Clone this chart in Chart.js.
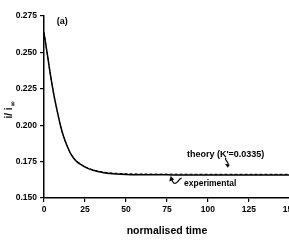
<!DOCTYPE html>
<html>
<head>
<meta charset="utf-8">
<script src="https://cdn.jsdelivr.net/npm/chart.js@4/dist/chart.umd.min.js"></script>
<style>
html,body{margin:0;padding:0;background:#fff;overflow:hidden;width:289px;height:250px;}
canvas{display:block;}
</style>
</head>
<body>
<canvas id="c" width="300" height="250" style="width:300px;height:250px"></canvas>
<script>
// normalised time values
const time = [0,2,4,6,8,10,12,14,16,18,20,23,26,30,35,40,50,60,75,100,125,150];
// experimental i/i∞
const experimental = [0.263,0.249,0.234,0.221,0.210,0.200,0.192,0.186,0.181,0.1775,0.175,0.1726,0.1707,0.1690,0.1677,0.1669,0.1662,0.1660,0.1659,0.1658,0.1658,0.1658];
// theory (K'=0.0335)
const theory = [0.264,0.249,0.234,0.221,0.210,0.200,0.192,0.186,0.181,0.1778,0.1753,0.1729,0.1710,0.1693,0.1680,0.1673,0.1667,0.1665,0.1664,0.1663,0.1663,0.1663];
const xTicks = [0,25,50,75,100,125,150];
const yTicks = [0.150,0.175,0.200,0.225,0.250,0.275];

const FONT = "'Liberation Sans', Arial, sans-serif";

const annot = {
  id: 'annot',
  afterDraw(chart) {
    const ctx = chart.ctx;
    const xs = chart.scales.x, ys = chart.scales.y;
    ctx.save();
    ctx.fillStyle = '#000';
    ctx.strokeStyle = '#000';
    // (a)
    ctx.font = 'bold 9px ' + FONT;
    ctx.textAlign = 'left';
    ctx.textBaseline = 'middle';
    ctx.fillText('(a)', xs.getPixelForValue(7.8), ys.getPixelForValue(0.2715));
    // theory label
    ctx.textAlign = 'center';
    ctx.fillText("theory (K'=0.0335)", xs.getPixelForValue(110.8), ys.getPixelForValue(0.1799));
    // experimental label
    ctx.font = 'bold 8.5px ' + FONT;
    ctx.textAlign = 'left';
    ctx.fillText('experimental', xs.getPixelForValue(85.4), ys.getPixelForValue(0.1599));
    // theory arrow (squiggle pointing down)
    let ax = xs.getPixelForValue(111.5), ay = ys.getPixelForValue(0.1777);
    ctx.lineWidth = 1.2;
    ctx.beginPath();
    ctx.moveTo(ax - 1, ay);
    ctx.bezierCurveTo(ax - 3, ay + 3, ax + 3, ay + 4, ax + 1, ay + 8);
    ctx.stroke();
    ctx.beginPath();
    ctx.moveTo(ax + 1, ay + 10);
    ctx.lineTo(ax - 2, ay + 6);
    ctx.lineTo(ax + 3, ay + 7);
    ctx.closePath();
    ctx.fill();
    // experimental arrow (squiggle pointing up-left)
    let bx = xs.getPixelForValue(84), by = ys.getPixelForValue(0.1617);
    ctx.beginPath();
    ctx.moveTo(bx, by - 3);
    ctx.bezierCurveTo(bx - 4, by - 2, bx - 4, by + 4, bx - 8, by + 2);
    ctx.bezierCurveTo(bx - 9, by + 1, bx - 10, by - 1, bx - 10, by - 2);
    ctx.stroke();
    ctx.beginPath();
    ctx.moveTo(bx - 11, by - 5);
    ctx.lineTo(bx - 12.5, by + 0.5);
    ctx.lineTo(bx - 7.5, by - 1.5);
    ctx.closePath();
    ctx.fill();
    // y title  i/ i∞
    ctx.translate(9, (ys.top + ys.bottom) / 2 + 3);
    ctx.rotate(-Math.PI / 2);
    ctx.textAlign = 'left';
    ctx.textBaseline = 'alphabetic';
    ctx.font = 'bold 10px ' + FONT;
    const main = 'i/ i';
    const w = ctx.measureText(main).width;
    const INF = "bold 7px 'DejaVu Sans', sans-serif";
    ctx.font = INF;
    const w2 = ctx.measureText('\u221E').width;
    const start = -(w + w2) / 2;
    ctx.font = 'bold 10px ' + FONT;
    ctx.fillText(main, start, 3);
    ctx.font = INF;
    ctx.fillText('\u221E', start + w + 0.5, 6);
    ctx.restore();
    // x title
    ctx.save();
    ctx.fillStyle = '#000';
    ctx.font = 'bold 10.5px ' + FONT;
    ctx.textAlign = 'center';
    ctx.textBaseline = 'middle';
    ctx.fillText('normalised time', xs.getPixelForValue(75), 231);
    ctx.restore();
  }
};

new Chart(document.getElementById('c'), {
  type: 'line',
  data: {
    datasets: [
      {
        label: 'experimental',
        data: time.map((t, i) => ({x: t, y: experimental[i]})),
        borderColor: '#000',
        borderWidth: 1.5,
        pointRadius: 0,
        fill: false,
        cubicInterpolationMode: 'monotone'
      },
      {
        label: "theory (K'=0.0335)",
        data: time.map((t, i) => ({x: t, y: theory[i]})),
        borderColor: '#000',
        borderWidth: 1,
        borderDash: [3, 2],
        pointRadius: 0,
        fill: false,
        cubicInterpolationMode: 'monotone'
      }
    ]
  },
  options: {
    responsive: false,
    animation: false,
    devicePixelRatio: 1,
    layout: {padding: {top: 16, right: 9, left: 0, bottom: 0}},
    plugins: {legend: {display: false}, tooltip: {enabled: false}},
    scales: {
      x: {
        type: 'linear',
        min: 0, max: 150,
        afterBuildTicks(s) { s.ticks = xTicks.map(v => ({value: v})); },
        afterFit(s) { s.height = 52; },
        ticks: {color: '#000', font: {family: FONT, size: 8.5, weight: 'bold'}, padding: 3, maxRotation: 0, autoSkip: false},
        grid: {display: true, drawOnChartArea: false, drawTicks: true, tickLength: 4, color: '#000', lineWidth: 1.2},
        border: {display: true, color: '#000', width: 1.5}
      },
      y: {
        type: 'linear',
        min: 0.15, max: 0.275,
        afterBuildTicks(s) { s.ticks = yTicks.map(v => ({value: v})); },
        afterFit(s) { s.width = 44; },
        ticks: {color: '#000', font: {family: FONT, size: 8.5, weight: 'bold'}, padding: 3, callback: v => v.toFixed(3)},
        grid: {display: true, drawOnChartArea: false, drawTicks: true, tickLength: 4, color: '#000', lineWidth: 1.2},
        border: {display: true, color: '#000', width: 1.5}
      }
    }
  },
  plugins: [annot]
});
</script>
</body>
</html>
